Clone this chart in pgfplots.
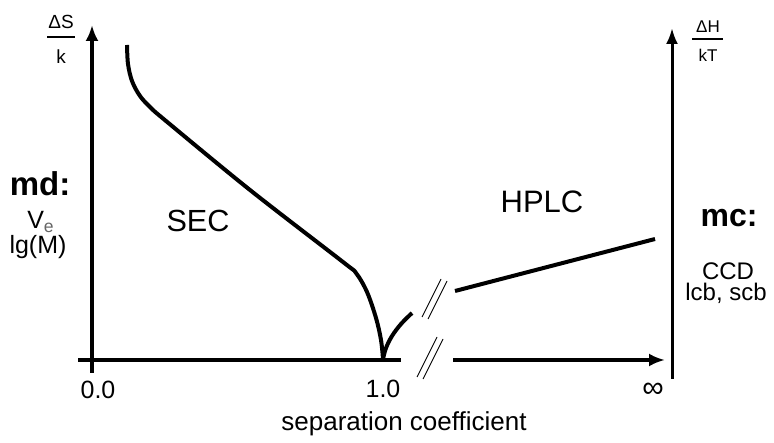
\documentclass[border=0pt]{standalone}
\usepackage{fontspec}
\setmainfont{Liberation Sans}
\usepackage{pgfplots}
\pgfplotsset{compat=1.18}
\usetikzlibrary{arrows.meta}

\begin{document}
\begin{tikzpicture}
\begin{axis}[
  width=387pt, height=218.5pt, scale only axis,
  xmin=0, xmax=774, ymin=0, ymax=437, y dir=reverse,
  hide axis, clip=false,
]
% frame of the page
\addplot[draw=none] coordinates {(0,0) (774,437)};

% axes
\addplot[line width=1.7pt, -{Latex[length=8pt,width=6.5pt]}] coordinates {(92,373) (92,25)};
\addplot[line width=1.5pt, -{Latex[length=8pt,width=6pt]}] coordinates {(672,379) (672,28)};
\addplot[line width=1.6pt] coordinates {(78,360) (401,360)};
\addplot[line width=1.6pt, -{Latex[length=8pt,width=6.5pt]}] coordinates {(453,360) (665,360)};

% axis breaks
\addplot[line width=0.45pt] coordinates {(422,317) (441,279)};
\addplot[line width=0.45pt] coordinates {(428,319) (447,281)};
\addplot[line width=0.45pt] coordinates {(417,377) (437,337)};
\addplot[line width=0.45pt] coordinates {(423,379) (443,339)};

% SEC branch
\addplot[line width=2pt, smooth, tension=0.55] coordinates {
  (127,45) (128,64) (132,81) (140,96) (151,108) (166,121) (250,190)
  (343,262) (356,273) (367,292) (376,318) (381,340) (383,359)
};
% rise after 1.0
\addplot[line width=2pt, smooth, tension=0.6] coordinates {
  (383,359) (386,348) (392,336) (401,324) (412,313)
};
% HPLC branch
\addplot[line width=2pt] coordinates {(455,291) (655,239)};

% fraction labels
\node[font=\fontsize{9.5}{10}\selectfont] at (axis cs:61,22) {ΔS};
\addplot[line width=0.7pt] coordinates {(47,37) (75,37)};
\node[font=\fontsize{9.5}{10}\selectfont] at (axis cs:61,57) {k};
\node[font=\fontsize{8.5}{9}\selectfont] at (axis cs:708,27) {ΔH};
\addplot[line width=0.7pt] coordinates {(692,39) (723,39)};
\node[font=\fontsize{8.5}{9}\selectfont] at (axis cs:708,55) {kT};

% side labels
\node[font=\fontsize{16.5}{18}\selectfont\bfseries] at (axis cs:40,184) {md:};
\node[font=\fontsize{12.5}{14}\selectfont] at (axis cs:41,222) {V\textsubscript{\color{black!60}e}};
\node[font=\fontsize{12.5}{14}\selectfont] at (axis cs:38,247) {lg(M)};
\node[font=\fontsize{16}{18}\selectfont\bfseries] at (axis cs:729,218) {mc:};
\node[font=\fontsize{12}{13}\selectfont, anchor=base, inner sep=0pt] at (axis cs:728,280) {CCD};
\node[font=\fontsize{12}{13}\selectfont, anchor=base, inner sep=0pt] at (axis cs:726,301) {lcb, scb};

% region labels
\node[font=\fontsize{15.3}{17}\selectfont] at (axis cs:198,221) {SEC};
\node[font=\fontsize{15.5}{17}\selectfont] at (axis cs:542,202) {HPLC};

% tick labels and axis title
\node[font=\fontsize{12.5}{14}\selectfont, anchor=base, inner sep=0pt] at (axis cs:98,399) {0.0};
\node[font=\fontsize{12.5}{14}\selectfont, anchor=base, inner sep=0pt] at (axis cs:383,398) {1.0};
\node[font=\fontsize{15}{16}\selectfont, anchor=base, inner sep=0pt] at (axis cs:653,398) {∞};
\node[font=\fontsize{13}{15}\selectfont] at (axis cs:404,424) {separation coefficient};
\end{axis}
\end{tikzpicture}
\end{document}
